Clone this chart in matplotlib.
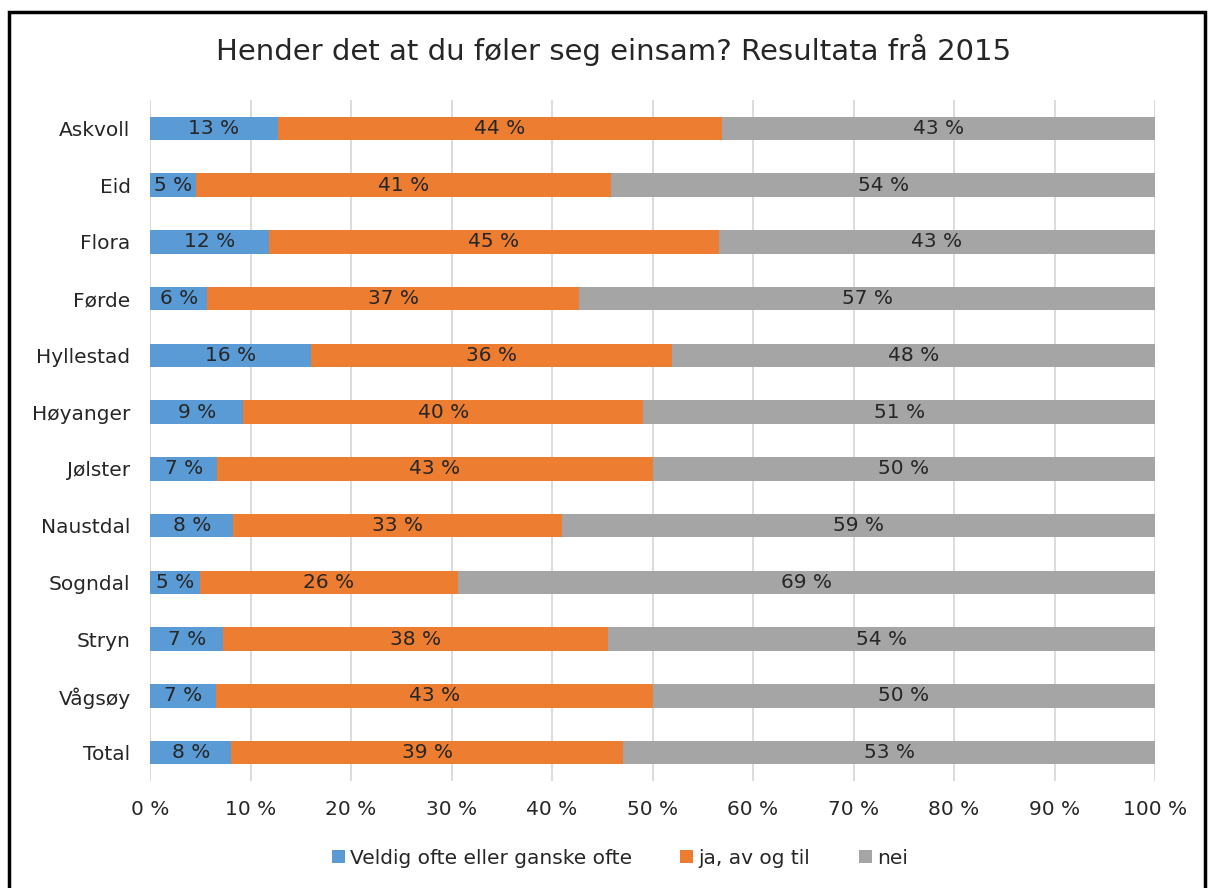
import matplotlib.pyplot as plt
import numpy as np
from matplotlib.patches import Rectangle

# ── Data ──────────────────────────────────────────────────────────────────────
kommunar = ['Askvoll', 'Eid', 'Flora', 'Førde', 'Hyllestad', 'Høyanger',
            'Jølster', 'Naustdal', 'Sogndal', 'Stryn', 'Vågsøy', 'Total']
veldig_ofte = [12.7, 4.6, 11.8, 5.7, 16.0, 9.3, 6.7, 8.3, 5.0, 7.3, 6.6, 8.1]
av_og_til = [44.2, 41.3, 44.8, 37.0, 35.9, 39.8, 43.3, 32.7, 25.6, 38.3, 43.4, 39.0]
nei = [43.1, 54.1, 43.4, 57.3, 48.1, 50.9, 50.0, 59.0, 69.4, 54.4, 50.0, 52.9]
serie_namn = ['Veldig ofte eller ganske ofte', 'ja, av og til', 'nei']
xticks = np.arange(0, 101, 10)

COLORS = ['#5B9BD5', '#ED7D31', '#A5A5A5']
TXT = '#262626'
FS = 14.5

# ── Figure ────────────────────────────────────────────────────────────────────
fig = plt.figure(figsize=(12.08, 8.88), dpi=100)
ax = fig.add_axes([150 / 1208, 1 - 781 / 888, 1005 / 1208, 681 / 888])

y = np.arange(len(kommunar))
left = np.zeros(len(kommunar))
for vals, col, name in zip([veldig_ofte, av_og_til, nei], COLORS, serie_namn):
    vals = np.array(vals)
    ax.barh(y, vals, left=left, height=0.41, color=col, label=name, zorder=3)
    for yi, l, v in zip(y, left, vals):
        ax.text(l + v / 2, yi, f'{v:.0f} %', ha='center', va='center',
                fontsize=FS, color=TXT, zorder=4)
    left += vals

ax.set_xlim(0, 100)
ax.set_ylim(len(kommunar) - 0.5, -0.5)
ax.set_xticks(xticks)
ax.set_xticklabels([f'{t} %' for t in xticks], fontsize=FS, color=TXT)
ax.set_yticks(y)
ax.set_yticklabels(kommunar, fontsize=FS, color=TXT)
ax.tick_params(length=0, pad=14, axis='y')
ax.tick_params(length=0, pad=14, axis='x')
ax.grid(axis='x', color='#D9D9D9', linewidth=1.3, zorder=0)
for s in ax.spines.values():
    s.set_visible(False)

fig.text(0.508, 1 - 50 / 888, 'Hender det at du føler seg einsam? Resultata frå 2015',
         ha='center', va='center', fontsize=21, color=TXT)

fig.legend(loc='center', bbox_to_anchor=(0.513, 1 - 858 / 888), ncol=3,
           frameon=False, fontsize=FS, handlelength=0.65, handleheight=0.65,
           handletextpad=0.25, columnspacing=2.4, labelcolor=TXT)

# chart border
fig.add_artist(Rectangle((9 / 1208, -0.02), 1196 / 1208, 1.02 - 12 / 888,
                         transform=fig.transFigure, fill=False,
                         edgecolor='black', linewidth=2.5))

fig.savefig('out.png', dpi=100)
